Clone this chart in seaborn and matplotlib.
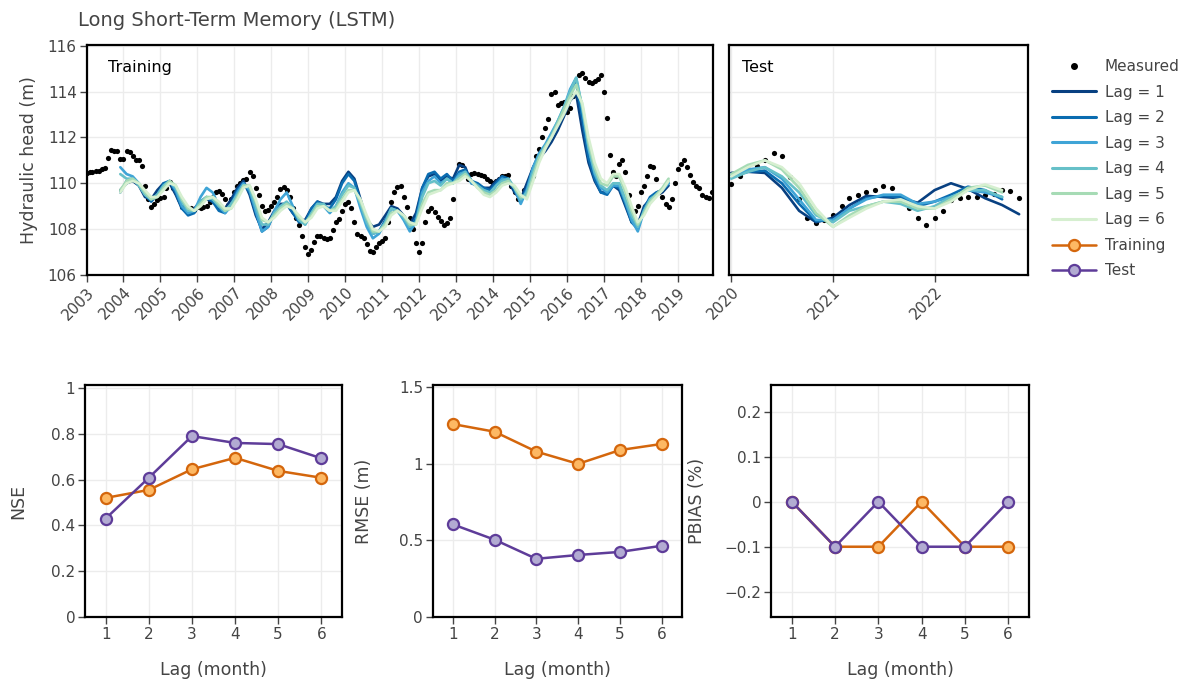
import numpy as np
import pandas as pd
import matplotlib
matplotlib.use("Agg")
import matplotlib.pyplot as plt
import matplotlib.dates as mdates
from matplotlib.lines import Line2D
from matplotlib.ticker import FuncFormatter
import seaborn as sns

# ---------------- DATA ----------------
# Measured hydraulic head, monthly, Jan 2003 - Dec 2019 (training period)
measured_train = [
    110.45, 110.5, 110.5, 110.55, 110.55, 110.6, 110.65, 111.1, 111.45, 111.4, 111.4, 111.07,
    111.07, 111.4, 111.35, 111.2, 111.0, 111.0, 110.75, 109.9, 109.3, 108.97, 109.1, 109.25,
    109.35, 109.4, 109.8, 110.06, 109.8, 109.6, 109.3, 108.97, 108.9, 108.85, 108.9, 108.85,
    108.95, 108.9, 108.95, 109.0, 109.2, 109.4, 109.6, 109.65, 109.55, 109.3, 109.05, 109.3,
    109.6, 109.9, 110.0, 110.15, 110.2, 110.5, 110.3, 109.8, 109.5, 109.0, 108.8, 108.85,
    109.0, 109.2, 109.4, 109.75, 109.85, 109.7, 109.4, 108.9, 108.5, 108.2, 107.7, 107.2,
    106.9, 107.1, 107.45, 107.7, 107.7, 107.6, 107.55, 107.6, 107.95, 108.3, 108.45, 108.8,
    109.1, 109.2, 108.9, 108.3, 107.8, 107.7, 107.6, 107.35, 107.05, 107.0, 107.2, 107.4,
    107.5, 107.6, 108.3, 109.2, 109.6, 109.85, 109.9, 109.4, 108.95, 108.5, 108.0, 107.4,
    107.0, 107.4, 108.3, 108.8, 108.9, 108.75, 108.55, 108.35, 108.2, 108.25, 108.5, 109.3,
    110.3, 110.85, 110.8, 110.5, 110.2, 110.4, 110.45, 110.4, 110.35, 110.3, 110.2, 110.1,
    110.0, 110.1, 110.2, 110.3, 110.3, 110.35, 109.9, 109.6, 109.3, 109.4, 109.7, 109.9,
    110.1, 110.3, 111.2, 111.5, 112.0, 112.4, 112.8, 113.9, 114.0, 113.4, 113.5, 113.55,
    113.1, 113.3, 113.8, 114.3, 114.7, 114.8, 114.6, 114.4, 114.35, 114.45, 114.55, 114.7,
    114.0, 112.85, 111.25, 110.5, 110.3, 110.85, 111.0, 110.5, 109.5, 108.4, 108.8, 109.0,
    109.6, 109.9, 110.3, 110.75, 110.7, 110.2, 109.6, 109.4, 109.1, 108.95, 109.3, 110.0,
    110.6, 110.85, 111.0, 110.7, 110.35, 110.05, 109.9, 109.8, 109.5, 109.4, 109.35, 109.6,
]
# Measured hydraulic head, monthly, Jan 2020 - Nov 2022 (test period)
measured_test = [
    109.97, 110.3, 110.6, 110.75, 111.0, 111.3, 111.2, 110.27, 109.3, 108.5, 108.25, 108.4,
    108.6, 109.0, 109.35, 109.5, 109.6, 109.7, 109.9, 109.8, 109.4, 108.9, 108.47, 108.2,
    108.47, 108.8, 109.25, 109.35, 109.4, 109.4, 109.5, 109.55, 109.7, 109.65, 109.35,
]

# LSTM simulated head, every two months Dec 2003 - Oct 2018 (training)
lag1_train = [
    109.7, 110.0, 110.1, 109.9, 109.4, 109.3, 109.7, 110.0, 110.0, 109.5, 108.9, 108.7,
    108.9, 109.2, 109.3, 109.2, 108.9, 108.9, 109.3, 109.8, 110.1, 109.5, 108.6, 108.0,
    108.3, 108.8, 109.1, 109.1, 108.7, 108.4, 108.4, 108.9, 109.2, 109.1, 109.1, 109.4,
    110.1, 110.5, 110.2, 109.3, 108.4, 108.1, 108.2, 108.6, 109.0, 108.9, 108.6, 108.2,
    108.7, 109.8, 110.3, 110.4, 110.1, 110.3, 110.2, 110.8, 110.7, 110.0, 109.9, 109.8,
    109.8, 110.1, 110.3, 110.1, 109.6, 109.3, 110.0, 110.7, 111.1, 111.4, 111.8, 112.3,
    112.9, 113.6, 113.9, 112.3, 110.9, 110.1, 109.6, 109.6, 109.9, 109.7, 109.0, 108.3,
    108.2, 109.0, 109.3, 109.5, 109.6, 109.9,
]
lag2_train = [
    109.6, 110.1, 110.2, 110.0, 109.5, 109.2, 109.5, 110.0, 110.1, 109.6, 108.9, 108.6,
    108.7, 109.2, 109.4, 109.2, 108.8, 108.7, 109.1, 109.7, 110.0, 109.6, 108.7, 107.9,
    108.1, 108.7, 109.0, 109.1, 108.7, 108.3, 108.3, 108.9, 109.2, 109.0, 108.9, 109.3,
    110.0, 110.4, 110.1, 109.2, 108.3, 107.8, 107.9, 108.4, 108.9, 108.8, 108.5, 108.0,
    108.5, 109.8, 110.4, 110.5, 110.2, 110.4, 110.1, 110.5, 110.6, 110.1, 110.0, 109.8,
    109.7, 110.0, 110.3, 110.2, 109.7, 109.2, 109.8, 110.7, 111.3, 111.6, 112.0, 112.5,
    113.1, 113.9, 114.4, 112.8, 111.1, 110.2, 109.6, 109.5, 109.9, 109.8, 109.1, 108.3,
    108.0, 108.9, 109.4, 109.6, 109.7, 110.0,
]
lag3_train = [
    110.7, 110.4, 110.3, 110.0, 109.5, 109.3, 109.5, 109.9, 110.1, 109.7, 109.0, 108.7,
    108.8, 109.4, 109.8, 109.6, 109.0, 108.7, 109.0, 109.6, 110.0, 109.7, 108.8, 107.9,
    108.1, 108.8, 109.3, 109.6, 109.0, 108.4, 108.2, 108.7, 109.1, 109.0, 108.7, 109.0,
    109.6, 110.0, 109.8, 108.9, 108.1, 107.6, 107.8, 108.3, 108.9, 108.8, 108.4, 107.9,
    108.3, 109.6, 110.1, 110.3, 110.0, 110.2, 110.0, 110.4, 110.5, 110.0, 109.9, 109.6,
    109.5, 109.9, 110.2, 110.1, 109.8, 109.1, 109.7, 110.7, 111.3, 111.7, 112.2, 112.7,
    113.3, 114.1, 114.6, 113.2, 111.5, 110.4, 109.8, 109.6, 109.9, 109.9, 109.2, 108.4,
    107.9, 108.8, 109.3, 109.5, 109.7, 110.0,
]
lag4_train = [
    110.4, 110.2, 110.2, 109.9, 109.5, 109.3, 109.5, 109.9, 110.1, 109.8, 109.2, 108.8,
    108.8, 109.2, 109.4, 109.3, 109.0, 108.8, 109.1, 109.5, 109.9, 109.8, 109.0, 108.2,
    108.2, 108.7, 109.0, 109.2, 108.9, 108.4, 108.2, 108.7, 109.1, 109.1, 108.8, 109.0,
    109.5, 109.9, 109.8, 109.1, 108.3, 107.8, 107.9, 108.3, 108.9, 108.8, 108.5, 108.1,
    108.3, 109.4, 110.0, 110.1, 109.9, 110.2, 110.0, 110.3, 110.5, 110.1, 109.9, 109.7,
    109.6, 109.9, 110.1, 110.2, 109.8, 109.3, 109.6, 110.5, 111.2, 111.6, 112.1, 112.7,
    113.3, 114.0, 114.6, 113.3, 111.6, 110.5, 109.9, 109.7, 110.0, 110.0, 109.3, 108.6,
    108.1, 108.8, 109.3, 109.5, 109.7, 110.1,
]
lag5_train = [
    109.7, 110.1, 110.2, 110.0, 109.6, 109.3, 109.4, 109.8, 110.1, 109.9, 109.3, 108.9,
    108.8, 109.1, 109.4, 109.4, 109.1, 108.8, 108.9, 109.4, 109.9, 109.9, 109.2, 108.4,
    108.3, 108.6, 108.9, 109.1, 108.9, 108.5, 108.3, 108.6, 109.0, 109.0, 108.8, 108.9,
    109.3, 109.7, 109.7, 109.2, 108.5, 107.9, 107.9, 108.2, 108.7, 108.8, 108.6, 108.2,
    108.2, 109.1, 109.6, 109.7, 109.7, 110.0, 110.0, 110.2, 110.4, 110.1, 109.8, 109.6,
    109.5, 109.7, 110.0, 110.1, 109.8, 109.4, 109.4, 110.3, 111.1, 111.6, 112.0, 112.6,
    113.2, 113.8, 114.3, 113.4, 111.8, 110.7, 110.0, 109.9, 110.3, 110.3, 109.6, 108.8,
    108.2, 108.7, 109.2, 109.5, 109.8, 110.2,
]
lag6_train = [
    109.6, 110.0, 110.1, 110.0, 109.7, 109.4, 109.4, 109.7, 110.0, 109.9, 109.4, 109.0,
    108.8, 109.0, 109.3, 109.4, 109.2, 108.9, 108.9, 109.3, 109.8, 109.9, 109.3, 108.5,
    108.3, 108.5, 108.8, 109.0, 108.9, 108.6, 108.3, 108.5, 108.9, 109.0, 108.8, 108.8,
    109.2, 109.6, 109.7, 109.3, 108.6, 108.0, 107.9, 108.1, 108.6, 108.8, 108.6, 108.3,
    108.2, 108.9, 109.5, 109.6, 109.7, 109.9, 110.0, 110.1, 110.3, 110.1, 109.8, 109.5,
    109.4, 109.6, 109.9, 110.0, 109.9, 109.5, 109.3, 110.1, 110.9, 111.5, 112.0, 112.5,
    113.0, 113.6, 114.0, 113.5, 112.0, 110.9, 110.2, 110.0, 110.4, 110.4, 109.8, 109.0,
    108.3, 108.6, 109.1, 109.4, 109.7, 110.1,
]
# LSTM simulated head, every two months Jan 2020 - Nov 2022 (test)
nan = np.nan
lag1_test = [110.45, 110.5, 110.45, 109.8, 108.8, 108.3, 108.5, 109.05, 109.45, 109.4, 109.35, 109.15, 109.7, 110.0, 109.75, 109.35, 109.05, 108.65]
lag2_test = [110.3, 110.5, 110.55, 110.0, 109.1, 108.35, 108.4, 108.9, 109.35, 109.45, 109.4, 109.0, 109.2, 109.5, 109.85, 109.7, 109.3, nan]
lag3_test = [110.3, 110.6, 110.7, 110.2, 109.3, 108.4, 108.4, 108.9, 109.3, 109.5, 109.5, 109.1, 109.2, 109.4, 109.7, 109.6, 109.4, nan]
lag4_test = [110.2, 110.5, 110.7, 110.3, 109.6, 108.6, 108.3, 108.8, 109.0, 109.2, 109.1, 108.8, 109.0, 109.4, 109.7, 109.7, 109.4, nan]
lag5_test = [110.4, 110.8, 111.0, 110.6, 109.8, 108.7, 108.1, 108.6, 109.0, 109.2, 109.2, 108.9, 108.9, 109.3, 109.8, 109.9, 109.6, nan]
lag6_test = [110.3, 110.7, 111.0, 110.7, 110.0, 108.9, 108.1, 108.5, 108.9, 109.2, 109.3, 109.0, 108.9, 109.2, 109.7, 109.95, 109.7, nan]

lag_labels = ["Lag = 1", "Lag = 2", "Lag = 3", "Lag = 4", "Lag = 5", "Lag = 6"]

# Performance metrics by lag
lags = [1, 2, 3, 4, 5, 6]
nse_train = [0.52, 0.555, 0.645, 0.695, 0.638, 0.608]
nse_test = [0.43, 0.608, 0.79, 0.76, 0.755, 0.693]
rmse_train = [1.26, 1.21, 1.08, 1.0, 1.09, 1.13]
rmse_test = [0.605, 0.505, 0.38, 0.405, 0.425, 0.465]
pbias_train = [0.0, -0.1, -0.1, 0.0, -0.1, -0.1]
pbias_test = [0.0, -0.1, 0.0, -0.1, -0.1, 0.0]

# ---------------- STYLE ----------------
lag_colors = ["#084081", "#0a6cb0", "#3fa4d6", "#66c0c8", "#a6dbb5", "#d6efd0"]
train_edge, train_face = "#d4660c", "#fdb863"
test_edge, test_face = "#5e3c99", "#b2abd2"
txt = "#444444"

sns.set_theme(style="whitegrid")
plt.rcParams["font.family"] = ["DejaVu Sans"]
plt.rcParams["axes.edgecolor"] = "black"

fig = plt.figure(figsize=(11.85, 6.87), dpi=100)
W, H = 1185, 687


def add_ax(x0, y0, x1, y1):
    return fig.add_axes([x0 / W, 1 - y1 / H, (x1 - x0) / W, (y1 - y0) / H])


ax_tr = add_ax(86.5, 44.5, 713.3, 275)
ax_te = add_ax(729.3, 44.5, 1028.3, 275)
ax_nse = add_ax(85, 385, 342, 617)
ax_rmse = add_ax(432.7, 385, 681.7, 617)
ax_pb = add_ax(771, 385, 1029, 617)


def style_ax(ax):
    for s in ax.spines.values():
        s.set_color("black")
        s.set_linewidth(1.6)
    ax.grid(True, color="#ececec", linewidth=1.0)
    ax.set_axisbelow(True)
    ax.tick_params(axis="both", which="major", direction="out", length=5, width=1,
                   color=txt, labelcolor=txt, labelsize=11, bottom=True, left=True, pad=2)


# ---------------- TOP PANELS ----------------
dates_meas_tr = pd.date_range("2003-01-01", periods=len(measured_train), freq="MS")
dates_meas_te = pd.date_range("2020-01-01", periods=len(measured_test), freq="MS")
dates_lag_tr = pd.date_range("2003-12-01", periods=len(lag1_train), freq="2MS")
dates_lag_te = pd.date_range("2020-01-01", periods=len(lag1_test), freq="2MS")

tr_series = [lag1_train, lag2_train, lag3_train, lag4_train, lag5_train, lag6_train]
te_series = [lag1_test, lag2_test, lag3_test, lag4_test, lag5_test, lag6_test]

df_tr = pd.concat([pd.DataFrame({"date": dates_lag_tr, "head": v, "Lag": lab})
                   for v, lab in zip(tr_series, lag_labels)], ignore_index=True)
df_te = pd.concat([pd.DataFrame({"date": dates_lag_te, "head": v, "Lag": lab})
                   for v, lab in zip(te_series, lag_labels)], ignore_index=True).dropna()

for ax, dm, vm, df in [(ax_tr, dates_meas_tr, measured_train, df_tr),
                       (ax_te, dates_meas_te, measured_test, df_te)]:
    style_ax(ax)
    sns.scatterplot(x=dm, y=vm, color="black", s=14, linewidth=0, ax=ax, zorder=2, legend=False)
    sns.lineplot(data=df, x="date", y="head", hue="Lag", palette=lag_colors,
                 hue_order=lag_labels, linewidth=1.9, estimator=None, sort=True,
                 legend=False, ax=ax, zorder=3)
    ax.set_ylim(106, 116.05)
    ax.set_yticks([106, 108, 110, 112, 114, 116])
    ax.xaxis.set_major_locator(mdates.YearLocator())
    ax.xaxis.set_major_formatter(mdates.DateFormatter("%Y"))
    ax.set_xlabel("")
    ax.set_ylabel("")
    for lab in ax.get_xticklabels():
        lab.set_rotation(45)
        lab.set_ha("right")
        lab.set_rotation_mode("anchor")

ax_tr.set_xlim(pd.Timestamp("2003-01-01"), pd.Timestamp("2019-12-17"))
ax_te.set_xlim(pd.Timestamp("2019-12-25"), pd.Timestamp("2022-12-04"))
ax_te.tick_params(left=False, labelleft=False)
ax_tr.set_ylabel("Hydraulic head (m)", fontsize=12.5, color=txt)
ax_tr.yaxis.set_label_coords(-0.077, 0.5)

ax_tr.text(0.034, 0.9, "Training", transform=ax_tr.transAxes, fontsize=11.5,
           color="black", va="center", ha="left")
ax_te.text(0.042, 0.9, "Test", transform=ax_te.transAxes, fontsize=11.5,
           color="black", va="center", ha="left")

fig.text(78 / W, 1 - 20 / H, "Long Short-Term Memory (LSTM)", fontsize=14,
         color=txt, va="center", ha="left")

# ---------------- BOTTOM PANELS ----------------
def fmt(v, _):
    s = f"{v:g}"
    if abs(v) < 1e-9:
        s = "0"
    return s.replace("-", "\u2212")


panels = [
    (ax_nse, nse_train, nse_test, "NSE", (0, 1.013), [0, 0.2, 0.4, 0.6, 0.8, 1.0], -0.226),
    (ax_rmse, rmse_train, rmse_test, "RMSE (m)", (0, 1.515), [0, 0.5, 1.0, 1.5], -0.24),
    (ax_pb, pbias_train, pbias_test, "PBIAS (%)", (-0.256, 0.259), [-0.2, -0.1, 0, 0.1, 0.2], -0.252),
]
for ax, trv, tev, ylab, ylim, yt, lx in panels:
    style_ax(ax)
    sns.lineplot(x=lags, y=trv, color=train_edge, marker="o", markersize=8,
                 markerfacecolor=train_face, markeredgecolor=train_edge,
                 markeredgewidth=1.6, linewidth=1.8, ax=ax, zorder=3)
    sns.lineplot(x=lags, y=tev, color=test_edge, marker="o", markersize=8,
                 markerfacecolor=test_face, markeredgecolor=test_edge,
                 markeredgewidth=1.6, linewidth=1.8, ax=ax, zorder=4)
    ax.set_xlim(0.52, 6.48)
    ax.set_xticks(lags)
    ax.set_ylim(*ylim)
    ax.set_yticks(yt)
    ax.yaxis.set_major_formatter(FuncFormatter(fmt))
    ax.set_ylabel(ylab, fontsize=12.5, color=txt)
    ax.yaxis.set_label_coords(lx, 0.5)
    ax.set_xlabel("Lag (month)", fontsize=12.5, color=txt)
    ax.xaxis.set_label_coords(0.5, -0.19)

# ---------------- LEGEND ----------------
handles = [Line2D([], [], color="black", marker="o", linestyle="none", markersize=4)]
handles += [Line2D([], [], color=c, linewidth=2.2) for c in lag_colors]
handles += [Line2D([], [], color=train_edge, marker="o", markersize=8, markerfacecolor=train_face,
                   markeredgewidth=1.6, linewidth=1.8),
            Line2D([], [], color=test_edge, marker="o", markersize=8, markerfacecolor=test_face,
                   markeredgewidth=1.6, linewidth=1.8)]
labels = ["Measured"] + lag_labels + ["Training", "Test"]
leg = fig.legend(handles, labels, loc="upper left", bbox_to_anchor=(1046 / W, 1 - 53 / H),
                 frameon=False, fontsize=11, handlelength=2.9, labelspacing=0.69,
                 handletextpad=0.55, borderaxespad=0)
for t in leg.get_texts():
    t.set_color(txt)

fig.savefig("out.png", dpi=100)
